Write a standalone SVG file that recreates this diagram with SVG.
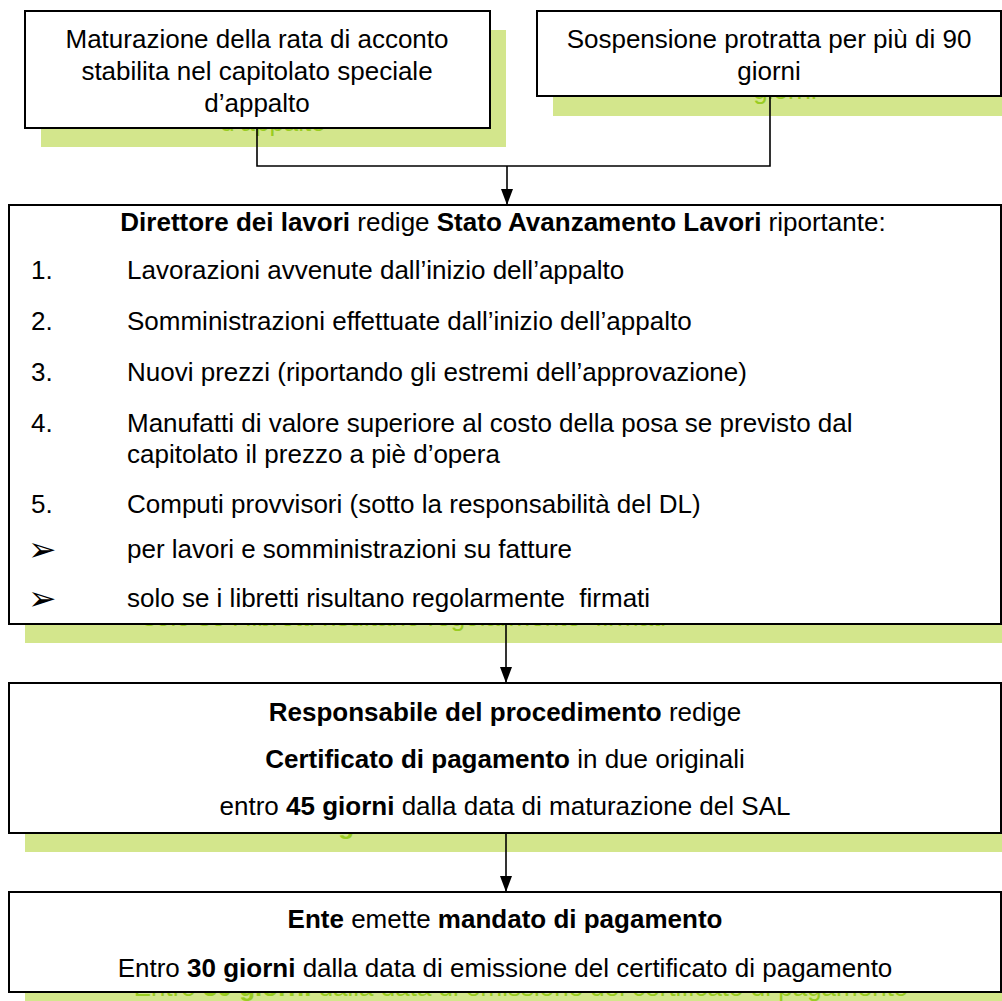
<svg xmlns="http://www.w3.org/2000/svg" width="1002" height="1001" viewBox="0 0 1002 1001">
<style>
text{font-family:"Liberation Sans",Arial,sans-serif;font-size:26px;fill:#000}
.c{text-anchor:middle}
.b{font-weight:bold}
.sh{fill:#d3e68c;stroke:none}
.st{fill:#99cc22}
.box{fill:#fff;stroke:#000;stroke-width:2}
.bul{font-family:"DejaVu Sans",sans-serif;font-size:34px}
.ln{fill:none;stroke:#000;stroke-width:1.6}
</style>
<defs>
<marker id="ah" viewBox="0 0 16 12" refX="16" refY="6" markerWidth="16" markerHeight="12" markerUnits="userSpaceOnUse" orient="auto">
<path d="M0,0 L16,6 L0,12 z" fill="#000"/>
</marker>
</defs>
<g id="n1">
<rect class="sh" x="41" y="30" width="465" height="117"/>
<text class="c st" x="273" y="131">d’appalto</text>
<rect class="box" x="25" y="11" width="465" height="117"/>
<text class="c" x="257" y="48">Maturazione della rata di acconto</text>
<text class="c" x="257" y="80">stabilita nel capitolato speciale</text>
<text class="c" x="257" y="112">d’appalto</text>
</g>
<g id="n2">
<rect class="sh" x="553" y="30" width="465" height="86"/>
<text class="c st" x="785" y="99">giorni</text>
<rect class="box" x="537" y="11" width="464" height="85"/>
<text class="c" x="769" y="48">Sospensione protratta per più di 90</text>
<text class="c" x="769" y="80">giorni</text>
</g>
<g id="n3">
<rect class="sh" x="25" y="224" width="993" height="419"/>
<text class="st" x="143" y="626" xml:space="preserve">solo se i libretti risultano regolarmente  firmati</text>
<rect class="box" x="9" y="205" width="992" height="419"/>
<text class="c" x="503" y="231"><tspan class="b">Direttore dei lavori</tspan> redige <tspan class="b">Stato Avanzamento Lavori</tspan> riportante:</text>
<text x="31" y="279">1.</text><text x="127" y="279">Lavorazioni avvenute dall’inizio dell’appalto</text>
<text x="31" y="330">2.</text><text x="127" y="330">Somministrazioni effettuate dall’inizio dell’appalto</text>
<text x="31" y="381">3.</text><text x="127" y="381">Nuovi prezzi (riportando gli estremi dell’approvazione)</text>
<text x="31" y="432">4.</text><text x="127" y="432">Manufatti di valore superiore al costo della posa se previsto dal</text>
<text x="127" y="463">capitolato il prezzo a piè d’opera</text>
<text x="31" y="513">5.</text><text x="127" y="513">Computi provvisori (sotto la responsabilità del DL)</text>
<text class="bul" x="28" y="561">➢</text><text x="127" y="558">per lavori e somministrazioni su fatture</text>
<text class="bul" x="28" y="610">➢</text><text x="127" y="607" xml:space="preserve">solo se i libretti risultano regolarmente  firmati</text>
</g>
<g id="n4">
<rect class="sh" x="25" y="702" width="993" height="150"/>
<text class="c st" x="521" y="834">entro <tspan class="b">45 giorni</tspan> dalla data di maturazione del SAL</text>
<rect class="box" x="9" y="683" width="992" height="150"/>
<text class="c" x="505" y="721"><tspan class="b">Responsabile del procedimento</tspan> redige</text>
<text class="c" x="505" y="768"><tspan class="b">Certificato di pagamento</tspan> in due originali</text>
<text class="c" x="505" y="815">entro <tspan class="b">45 giorni</tspan> dalla data di maturazione del SAL</text>
</g>
<g id="n5">
<rect class="sh" x="25" y="911" width="993" height="100"/>
<text class="c st" x="521" y="996">Entro <tspan class="b">30 giorni</tspan> dalla data di emissione del certificato di pagamento</text>
<rect class="box" x="9" y="892" width="992" height="100"/>
<text class="c" x="505" y="928"><tspan class="b">Ente</tspan> emette <tspan class="b">mandato di pagamento</tspan></text>
<text class="c" x="505" y="977">Entro <tspan class="b">30 giorni</tspan> dalla data di emissione del certificato di pagamento</text>
</g>
<g id="connectors">
<polyline class="ln" points="257,129 257,166 770,166 770,97"/>
<line class="ln" x1="507" y1="166" x2="507" y2="205" marker-end="url(#ah)"/>
<line class="ln" x1="506" y1="625" x2="506" y2="683" marker-end="url(#ah)"/>
<line class="ln" x1="506" y1="834" x2="506" y2="892" marker-end="url(#ah)"/>
</g>
</svg>
